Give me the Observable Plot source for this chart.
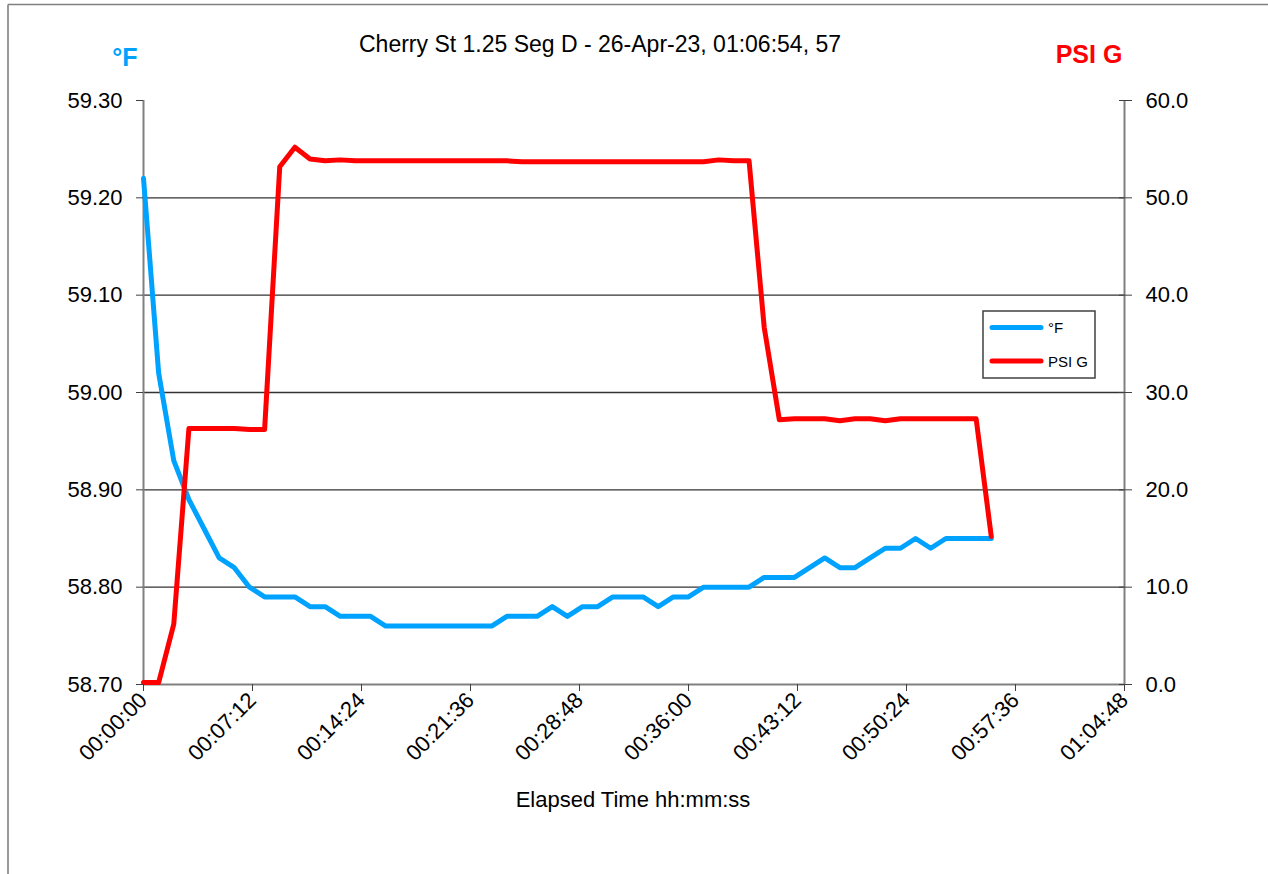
<!DOCTYPE html>
<html>
<head>
<meta charset="utf-8">
<script src="https://cdn.jsdelivr.net/npm/d3@7"></script>
<script src="https://cdn.jsdelivr.net/npm/@observablehq/plot@0.6"></script>
<style>
  html, body { margin: 0; padding: 0; background: #fff; }
  #wrap { position: relative; width: 1268px; height: 874px; overflow: hidden; font-family: "Liberation Sans", Arial, sans-serif; }
  #wrap > svg { position: absolute; left: 0; top: 0; }
</style>
</head>
<body>
<div id="wrap"></div>
<script>
// ---- data ----
const titleText = "Cherry St 1.25 Seg D - 26-Apr-23, 01:06:54, 57";
const xLabel = "Elapsed Time hh:mm:ss";
const seriesNames = ["°F", "PSI G"];
const seriesColors = ["#00A2FF", "#FF0000"];

// elapsed time, minutes
const elapsedMin = [0,1,2,3,4,5,6,7,8,9,10,11,12,13,14,15,16,17,18,19,20,21,22,23,24,25,26,27,28,29,30,31,32,33,34,35,36,37,38,39,40,41,42,43,44,45,46,47,48,49,50,51,52,53,54,55,56];
const tempF = [59.22,59.02,58.93,58.89,58.86,58.83,58.82,58.80,58.79,58.79,58.79,58.78,58.78,58.77,58.77,58.77,
  58.76,58.76,58.76,58.76,58.76,58.76,58.76,58.76,58.77,58.77,58.77,58.78,58.77,58.78,58.78,58.79,58.79,58.79,58.78,58.79,58.79,
  58.80,58.80,58.80,58.80,58.81,58.81,58.81,58.82,58.83,58.82,58.82,58.83,58.84,58.84,58.85,58.84,58.85,58.85,58.85,58.85];
const psiG = [0.2,0.2,6.2,26.3,26.3,26.3,26.3,26.2,26.2,53.2,55.2,54.0,53.8,53.9,53.8,53.8,
  53.8,53.8,53.8,53.8,53.8,53.8,53.8,53.8,53.8,53.7,53.7,53.7,53.7,53.7,53.7,53.7,53.7,53.7,53.7,53.7,53.7,
  53.7,53.9,53.8,53.8,36.7,27.2,27.3,27.3,27.3,27.1,27.3,27.3,27.1,27.3,27.3,27.3,27.3,27.3,27.3,15.2];

const xDomain = [0, 64.8];
const xTicks = [0, 7.2, 14.4, 21.6, 28.8, 36, 43.2, 50.4, 57.6, 64.8];
const xTickLabels = ["00:00:00","00:07:12","00:14:24","00:21:36","00:28:48","00:36:00","00:43:12","00:50:24","00:57:36","01:04:48"];
const tempDomain = [58.70, 59.30];
const tempTicks = [58.70, 58.80, 58.90, 59.00, 59.10, 59.20, 59.30];
const tempTickLabels = ["58.70","58.80","58.90","59.00","59.10","59.20","59.30"];
const gridTicks = [58.80, 58.90, 59.00, 59.10, 59.20];
const psiDomain = [0, 60];
const psiTickLabels = ["0.0","10.0","20.0","30.0","40.0","50.0","60.0"];

// map PSI onto the temperature scale (secondary axis)
const psiToTemp = p => tempDomain[0] + (p - psiDomain[0]) * (tempDomain[1] - tempDomain[0]) / (psiDomain[1] - psiDomain[0]);

const rows = elapsedMin.map((t, i) => ({t, temp: tempF[i], psi: psiG[i], psiY: psiToTemp(psiG[i])}));

const W = 1268, H = 874;

const chart = Plot.plot({
  width: W, height: H,
  marginTop: 100, marginBottom: 190, marginLeft: 143, marginRight: 144,
  style: {fontFamily: "'Liberation Sans', Arial, sans-serif", fontSize: "22px", background: "white", color: "black"},
  x: {domain: xDomain, label: null},
  y: {domain: tempDomain, label: null},
  marks: [
    Plot.gridY(gridTicks, {stroke: "#333333", strokeOpacity: 1, strokeWidth: 1.4}),
    Plot.ruleX(xDomain, {stroke: "#808080", strokeWidth: 2}),
    Plot.ruleY([tempDomain[0]], {stroke: "#808080", strokeWidth: 2}),
    Plot.line(rows, {x: "t", y: "temp", stroke: seriesColors[0], strokeWidth: 5, strokeLinejoin: "round", strokeLinecap: "round"}),
    Plot.line(rows, {x: "t", y: "psiY", stroke: seriesColors[1], strokeWidth: 5, strokeLinejoin: "round", strokeLinecap: "round"}),
    // left axis
    Plot.axisY({anchor: "left", ticks: tempTicks, tickFormat: d => tempTickLabels[tempTicks.indexOf(d)],
      tickSize: 7, tickPadding: 14, stroke: "#404040", fill: "black", label: null}),
    // right axis: crossing ticks + labels
    Plot.axisY({anchor: "right", ticks: tempTicks, tickSize: 13, dx: -6, stroke: "#404040", fill: "none", label: null}),
    Plot.axisY({anchor: "right", ticks: tempTicks, tickFormat: d => psiTickLabels[tempTicks.indexOf(d)],
      tickSize: 7, tickPadding: 14, stroke: "none", fill: "black", label: null}),
    // bottom axis
    Plot.axisX({anchor: "bottom", ticks: xTicks, tickFormat: d => xTickLabels[xTicks.indexOf(d)],
      tickSize: 7, tickPadding: 5, tickRotate: -45, stroke: "#404040", fill: "black", label: null})
  ]
});

const wrap = document.getElementById("wrap");
wrap.appendChild(chart);

// overlay: titles, axis captions, legend, chart-area border
const ns = "http://www.w3.org/2000/svg";
const ov = document.createElementNS(ns, "svg");
ov.setAttribute("width", W); ov.setAttribute("height", H);
ov.setAttribute("style", "pointer-events:none;font-family:'Liberation Sans', Arial, sans-serif");
function el(tag, attrs, text) {
  const e = document.createElementNS(ns, tag);
  for (const k in attrs) e.setAttribute(k, attrs[k]);
  if (text != null) e.textContent = text;
  ov.appendChild(e);
  return e;
}
// chart area border (top & left visible)
el("line", {x1: 8, y1: 4.5, x2: W, y2: 4.5, stroke: "#808080", "stroke-width": 1.6});
el("line", {x1: 8, y1: 4.5, x2: 8, y2: H, stroke: "#808080", "stroke-width": 1.6});
// title
el("text", {x: 600, y: 52, "text-anchor": "middle", "font-size": 23, fill: "black"}, titleText);
// axis captions
el("text", {x: 125, y: 66, "text-anchor": "middle", "font-size": 25, "font-weight": "bold", fill: seriesColors[0]}, seriesNames[0]);
el("text", {x: 1089, y: 63, "text-anchor": "middle", "font-size": 25, "font-weight": "bold", fill: seriesColors[1]}, seriesNames[1]);
el("text", {x: 633, y: 807, "text-anchor": "middle", "font-size": 22, fill: "black"}, xLabel);
// legend
el("rect", {x: 983, y: 311, width: 112, height: 67, fill: "white", stroke: "#404040", "stroke-width": 1.5});
seriesNames.forEach((name, i) => {
  const yy = 327.5 + i * 33.5;
  el("line", {x1: 992, y1: yy, x2: 1041, y2: yy, stroke: seriesColors[i], "stroke-width": 5, "stroke-linecap": "round"});
  el("text", {x: 1048, y: yy + 5.5, "font-size": 15, fill: "black"}, name);
});
wrap.appendChild(ov);
</script>
</body>
</html>
